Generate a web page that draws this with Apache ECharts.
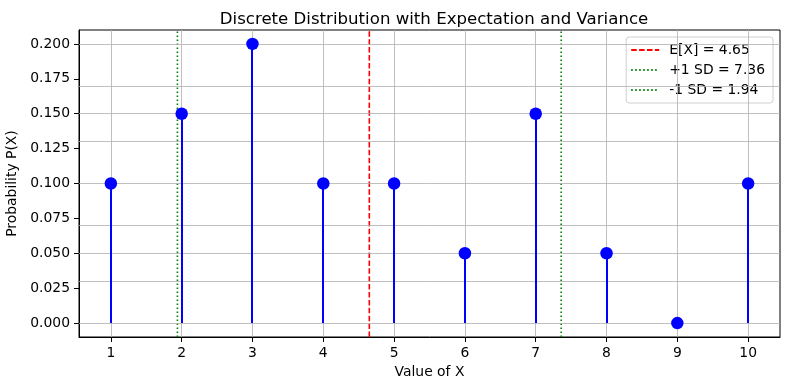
<!DOCTYPE html>
<html>
<head>
<meta charset="utf-8">
<script src="https://cdn.jsdelivr.net/npm/echarts@6/dist/echarts.min.js"></script>
<style>html,body{margin:0;padding:0;background:#fff;}#c{width:790px;height:390px;}</style>
</head>
<body>
<div id="c"></div>
<script>
var xValues = [1, 2, 3, 4, 5, 6, 7, 8, 9, 10];
var probs = [0.10, 0.15, 0.20, 0.10, 0.10, 0.05, 0.15, 0.05, 0.00, 0.10];
var expectation = 4.65;
var plusSD = 7.36;
var minusSD = 1.94;
var xTicks = [1, 2, 3, 4, 5, 6, 7, 8, 9, 10];
var yTicks = [0.000, 0.025, 0.050, 0.075, 0.100, 0.125, 0.150, 0.175, 0.200];
var xRange = [0.55, 10.45];
var yRange = [-0.01, 0.21];

var FONT = 'DejaVu Sans';
var points = xValues.map(function (x, i) { return [x, probs[i]]; });
var gridStyle = { color: '#b0b0b0', width: 0.8, type: 'solid' };

var chart = echarts.init(document.getElementById('c'), null, { renderer: 'canvas' });
chart.setOption({
  animation: false,
  backgroundColor: '#ffffff',
  textStyle: { fontFamily: FONT },
  title: {
    text: 'Discrete Distribution with Expectation and Variance',
    left: 429, top: 6, textAlign: 'center',
    textStyle: { fontFamily: FONT, fontSize: 16.6, fontWeight: 'normal', color: '#000' }
  },
  legend: {
    orient: 'vertical', right: 17, top: 37,
    padding: [6, 8, 6, 4],
    itemGap: 6, itemWidth: 28, itemHeight: 14,
    backgroundColor: 'rgba(255,255,255,0.8)',
    borderColor: '#d0d0d0', borderWidth: 1, borderRadius: 3,
    itemStyle: { opacity: 0 },
    textStyle: { fontFamily: FONT, fontSize: 13.9, color: '#000', padding: [0, 0, 0, 5] },
    data: ['E[X] = 4.65', '+1 SD = 7.36', '-1 SD = 1.94']
  },
  grid: {
    left: 79, right: 10, top: 30, bottom: 53,
    containLabel: false, outerBoundsMode: 'none',
    show: true, borderColor: '#000', borderWidth: 1, backgroundColor: 'transparent'
  },
  xAxis: {
    type: 'value', min: xRange[0], max: xRange[1],
    name: 'Value of X', nameLocation: 'middle', nameGap: 27,
    nameTextStyle: { fontFamily: FONT, fontSize: 13.9, color: '#000' },
    axisLine: { show: true, onZero: false, lineStyle: { color: '#000', width: 1 } },
    axisTick: { show: true, inside: false, length: 5, customValues: xTicks, lineStyle: { color: '#000' } },
    axisLabel: { customValues: xTicks, margin: 9, fontFamily: FONT, fontSize: 13.9, color: '#000',
      formatter: function (v) { return String(v); } },
    splitLine: { show: false }
  },
  yAxis: {
    type: 'value', min: yRange[0], max: yRange[1],
    name: 'Probability P(X)', nameLocation: 'middle', nameGap: 54, nameRotate: 90,
    nameTextStyle: { fontFamily: FONT, fontSize: 13.9, color: '#000' },
    axisLine: { show: true, onZero: false, lineStyle: { color: '#000', width: 1 } },
    axisTick: { show: true, inside: false, length: 5, customValues: yTicks, lineStyle: { color: '#000' } },
    axisLabel: { customValues: yTicks, margin: 9, fontFamily: FONT, fontSize: 13.9, color: '#000',
      formatter: function (v) { return v.toFixed(3); } },
    splitLine: { show: false }
  },
  series: [
    {
      name: 'grid', type: 'line', data: [], silent: true, z: 1,
      markLine: {
        silent: true, symbol: 'none', label: { show: false }, animation: false,
        lineStyle: gridStyle,
        data: xTicks.map(function (v) { return { xAxis: v }; })
          .concat(yTicks.map(function (v) { return { yAxis: v }; }))
      }
    },
    {
      name: 'stems', type: 'custom', z: 6, silent: true,
      data: points,
      renderItem: function (params, api) {
        var top = api.coord([api.value(0), api.value(1)]);
        var base = api.coord([api.value(0), 0]);
        var x = Math.round(top[0]);
        return {
          type: 'rect',
          shape: { x: x - 1, y: top[1], width: 2, height: base[1] - top[1] },
          style: { fill: '#0000ff', stroke: null }
        };
      }
    },
    {
      name: 'E[X] = 4.65', type: 'line', z: 4, symbol: 'none', silent: true,
      data: [[expectation, yRange[0]], [expectation, yRange[1]]],
      itemStyle: { color: '#ff0000' },
      lineStyle: { color: '#ff0000', width: 1.6, type: [5.5, 2.4] }
    },
    {
      name: '+1 SD = 7.36', type: 'line', z: 4, symbol: 'none', silent: true,
      data: [[plusSD, yRange[0]], [plusSD, yRange[1]]],
      itemStyle: { color: '#008000' },
      lineStyle: { color: '#008000', width: 1.6, type: [1.5, 2.5] }
    },
    {
      name: '-1 SD = 1.94', type: 'line', z: 4, symbol: 'none', silent: true,
      data: [[minusSD, yRange[0]], [minusSD, yRange[1]]],
      itemStyle: { color: '#008000' },
      lineStyle: { color: '#008000', width: 1.6, type: [1.5, 2.5] }
    },
    {
      name: 'points', type: 'scatter', z: 7, silent: true,
      data: points, symbol: 'circle', symbolSize: 12.5,
      itemStyle: { color: '#0000ff', opacity: 1 }
    }
  ]
});
</script>
</body>
</html>
